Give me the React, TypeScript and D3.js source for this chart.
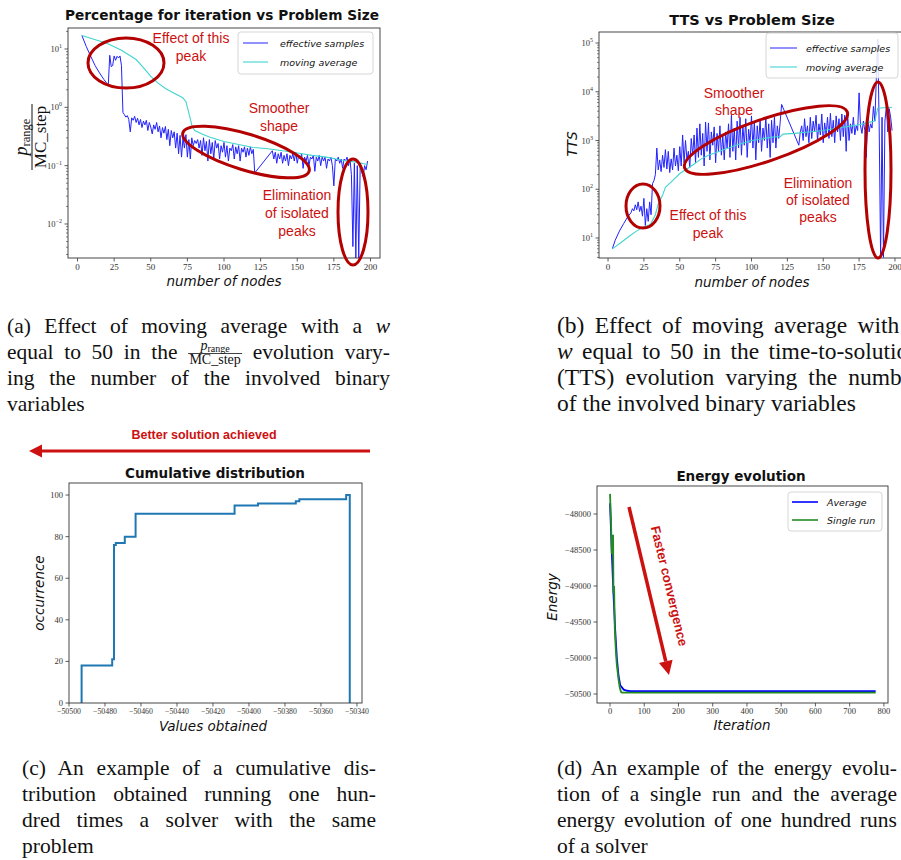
import { useEffect, useRef } from 'react';
import * as d3 from 'd3';

const W = 901;
const H = 860;

// (a) p_range / MC_step vs number of nodes
const nodesA = [
  3, 6, 9, 12, 15, 18, 21,
  22, 23, 24, 25, 26, 27, 28, 29, 30, 31,
  32, 33, 34, 35, 36, 37, 38, 39, 40, 41,
  42, 43, 44, 45, 46, 47, 48, 49, 50, 51,
  52, 53, 54, 55, 56, 57, 58, 59, 60, 61,
  62, 63, 64, 65, 66, 67, 68, 69, 70, 71,
  72, 73, 74, 75, 76, 77, 78, 79, 80, 81,
  82, 83, 84, 85, 86, 87, 88, 89, 90, 91,
  92, 93, 94, 95, 96, 97, 98, 99, 100, 101,
  102, 103, 104, 105, 106, 107, 108, 109, 110, 111,
  112, 113, 114, 115, 116, 117, 118, 119, 120, 121,
  133, 134, 135, 136, 137, 138, 139, 140, 141, 142,
  143, 144, 145, 146, 147, 148, 149, 150, 151, 152,
  153, 154, 155, 156, 157, 158, 159, 160, 161, 162,
  163, 164, 165, 166, 167, 168, 169, 170, 171, 172,
  173, 174, 175, 176, 177, 178, 179, 180, 181, 182,
  183, 184, 185, 186, 187, 188, 189, 190, 191, 192,
  193, 194, 195, 196, 197, 198,
];
const effectiveA = [
  17, 11, 7.5, 5.2, 3.9, 3.0, 2.4,
  7.8, 5.0, 5.2, 7.6, 6.4, 7.5, 7.0, 7.6, 5.2, 0.82,
  0.75, 0.68, 0.72, 0.62, 0.38, 0.66, 0.6, 0.7, 0.55, 0.65,
  0.5, 0.62, 0.45, 0.58, 0.5, 0.6, 0.4, 0.55, 0.46, 0.35,
  0.5, 0.42, 0.55, 0.38, 0.48, 0.3, 0.45, 0.36, 0.47, 0.28,
  0.42, 0.22, 0.4, 0.3, 0.38, 0.2, 0.36, 0.16, 0.33, 0.14,
  0.3, 0.2, 0.34, 0.14, 0.28, 0.13, 0.3, 0.22, 0.27, 0.24,
  0.28, 0.2, 0.27, 0.15, 0.3, 0.18, 0.26, 0.12, 0.28, 0.16,
  0.25, 0.13, 0.27, 0.2, 0.24, 0.13, 0.22, 0.17, 0.25, 0.14,
  0.22, 0.12, 0.2, 0.18, 0.23, 0.13, 0.21, 0.16, 0.22, 0.12,
  0.2, 0.17, 0.21, 0.14, 0.2, 0.15, 0.21, 0.16, 0.19, 0.075,
  0.18, 0.13, 0.17, 0.11, 0.16, 0.13, 0.17, 0.11, 0.15, 0.12,
  0.16, 0.1, 0.15, 0.13, 0.16, 0.12, 0.17, 0.11, 0.15, 0.13,
  0.16, 0.09, 0.14, 0.12, 0.15, 0.1, 0.14, 0.13, 0.15, 0.08,
  0.14, 0.12, 0.15, 0.1, 0.14, 0.12, 0.14, 0.09, 0.13, 0.12,
  0.14, 0.1, 0.045, 0.13, 0.12, 0.14, 0.11, 0.13, 0.09, 0.13,
  0.12, 0.14, 0.1, 0.13, 0.07, 0.0041, 0.11, 0.0026, 0.1, 0.0026,
  0.11, 0.08, 0.065, 0.1, 0.085, 0.12,
];
const avgNodesA = [3, 10, 20, 30, 40, 45, 50, 55, 60, 65, 70, 72, 74, 76, 78, 80, 85, 90, 100, 110, 120, 130, 140, 150, 160, 170, 180, 190, 198];
const movingAvgA = [17, 15, 12.5, 9.5, 6.6, 4.8, 3.4, 2.6, 2.1, 1.8, 1.55, 1.45, 1.25, 0.8, 0.5, 0.4, 0.35, 0.31, 0.26, 0.23, 0.205, 0.195, 0.18, 0.165, 0.15, 0.14, 0.125, 0.115, 0.105];

// (b) TTS vs number of nodes
const nodesB = [
  3, 5, 8, 11, 14, 16,
  17, 18, 19, 20, 21, 22, 23, 24, 25, 26,
  27, 28, 29, 30, 31, 32, 33, 34, 35, 36,
  37, 38, 39, 40, 41, 42, 43, 44, 45, 46,
  47, 48, 49, 50, 51, 52, 53, 54, 55, 56,
  57, 58, 59, 60, 61, 62, 63, 64, 65, 66,
  67, 68, 69, 70, 71, 72, 73, 74, 75, 76,
  77, 78, 79, 80, 81, 82, 83, 84, 85, 86,
  87, 88, 89, 90, 91, 92, 93, 94, 95, 96,
  97, 98, 99, 100, 101, 102, 103, 104, 105, 106,
  107, 108, 109, 110, 111, 112, 113, 114, 115, 116,
  117, 118, 119, 120, 121,
  133, 134, 135, 136, 137, 138, 139, 140, 141, 142,
  143, 144, 145, 146, 147, 148, 149, 150, 151, 152,
  153, 154, 155, 156, 157, 158, 159, 160, 161, 162,
  163, 164, 165, 166, 167, 168, 169, 170, 171, 172,
  173, 174, 175, 176, 177, 178, 179, 180, 181, 182,
  183, 184, 185, 186, 187, 188, 189, 190, 191, 192,
  193, 194, 195, 196, 197, 198,
];
const ttsB = [
  6, 9, 14, 20, 28, 33,
  40, 36, 48, 38, 55, 35, 45, 28, 65, 18,
  40, 22, 55, 30, 130, 150, 200, 700, 250, 400,
  230, 500, 280, 650, 260, 600, 220, 420, 250, 700,
  300, 500, 240, 750, 300, 1300, 350, 1000, 400, 600,
  280, 1100, 500, 1300, 350, 1800, 450, 2200, 500, 1400,
  300, 2400, 600, 2300, 400, 1500, 800, 1900, 350, 1400,
  600, 2000, 500, 1300, 400, 1500, 700, 2200, 450, 3300,
  600, 1800, 400, 2500, 700, 3000, 500, 2000, 800, 2800,
  450, 1700, 900, 3200, 700, 2500, 400, 2000, 900, 2700,
  600, 1800, 1000, 3000, 700, 2200, 450, 2600, 900, 3000,
  700, 2000, 1100, 2400, 5500,
  800, 1500, 2000, 1000, 2800, 1200, 2000, 900, 3000, 1100,
  2500, 1500, 3300, 1000, 2200, 1300, 3500, 900, 2300, 1300,
  3000, 1100, 3600, 1200, 2600, 900, 3200, 1500, 2800, 1000,
  3500, 1200, 3300, 600, 3700, 1000, 2200, 1400, 3000, 1300,
  2000, 1600, 9500, 2000, 1400, 2500, 1600, 450, 3000, 1500,
  2200, 1800, 5000, 2500, 18000, 120000, 2000, 4, 3000, 4,
  2500, 5000, 1500, 4500, 3000, 1600,
];
const avgNodesB = [3, 10, 15, 20, 25, 28, 30, 33, 35, 38, 40, 45, 50, 55, 60, 65, 70, 75, 80, 85, 90, 95, 100, 105, 110, 115, 120, 122, 130, 140, 150, 160, 170, 175, 180, 186, 188, 192, 198];
const movingAvgB = [6, 8.5, 11, 14, 17, 18, 20, 30, 50, 75, 110, 150, 210, 260, 330, 420, 500, 560, 640, 720, 820, 900, 1000, 1050, 1120, 1180, 1200, 1350, 1400, 1500, 1600, 1800, 2000, 2100, 2300, 2500, 4600, 4700, 4800];

// (c) cumulative distribution (bin edge, cumulative count)
const cumEdges = [-50493, -50476, -50475, -50474, -50469, -50463, -50408, -50395, -50374, -50372, -50346];
const cumCounts = [18, 21, 76, 77, 80, 91, 95, 96, 97, 98, 100];
const cumLastEdge = -50344;
const ticksC = [-50500, -50480, -50460, -50440, -50420, -50400, -50380, -50360, -50340];

// (d) energy evolution
const iterAvg = [0, 5, 10, 15, 20, 25, 30, 40, 50, 60, 776];
const energyAvg = [-47850, -48500, -49100, -49600, -50000, -50250, -50380, -50440, -50455, -50460, -50460];
const iterRun = [0, 3, 5, 6, 9, 10, 12, 14, 17, 20, 25, 28, 32, 35, 776];
const energyRun = [-47720, -48100, -48560, -48300, -48300, -49100, -49000, -49600, -49900, -50100, -50300, -50400, -50470, -50480, -50480];
const ticksDx = [0, 100, 200, 300, 400, 500, 600, 700, 800];
const ticksDy = [-48000, -48500, -49000, -49500, -50000, -50500];

const ticksNodes = [0, 25, 50, 75, 100, 125, 150, 175, 200];
const ticksC_y = [0, 20, 40, 60, 80, 100];

const SERIF = "'Liberation Serif', 'DejaVu Serif', serif";
const SANS = "'DejaVu Sans', sans-serif";
const ARIAL = "'Liberation Sans', Arial, sans-serif";
const RED = '#cc1111';
const RED_DARK = '#b30000';
const CAP = 21.5;

type Box = { left: number; right: number; top: number; bottom: number };
type Seg = { t: string; it?: boolean };

const App = () => {
  const svgRef = useRef<SVGSVGElement>(null);

  useEffect(() => {
    const svg = d3.select(svgRef.current);
    svg.selectAll('*').remove();
    const root = svg.append('g');

    // ---------- helpers
    const frame = (b: Box) => {
      root.append('rect')
        .attr('x', b.left).attr('y', b.top)
        .attr('width', b.right - b.left).attr('height', b.bottom - b.top)
        .attr('fill', 'none').attr('stroke', '#333').attr('stroke-width', 0.9);
    };

    const clip = (id: string, b: Box) => {
      root.append('clipPath').attr('id', id).append('rect')
        .attr('x', b.left).attr('y', b.top)
        .attr('width', b.right - b.left).attr('height', b.bottom - b.top);
    };

    const xTicks = (b: Box, x: (v: number) => number, vals: number[], fmt: (v: number) => string, dy: number, fs = 9) => {
      vals.forEach(v => {
        const px = x(v);
        root.append('line').attr('x1', px).attr('x2', px).attr('y1', b.bottom).attr('y2', b.bottom + 3.5)
          .attr('stroke', '#333').attr('stroke-width', 0.8);
        root.append('text').attr('x', px).attr('y', b.bottom + dy)
          .attr('text-anchor', 'middle').attr('font-family', SERIF).attr('font-size', fs).attr('fill', '#333')
          .text(fmt(v));
      });
    };

    const yTicks = (b: Box, y: (v: number) => number, vals: number[], fmt: (v: number) => string, fs = 9) => {
      vals.forEach(v => {
        const py = y(v);
        root.append('line').attr('x1', b.left - 3.5).attr('x2', b.left).attr('y1', py).attr('y2', py)
          .attr('stroke', '#333').attr('stroke-width', 0.8);
        root.append('text').attr('x', b.left - 6).attr('y', py + 3)
          .attr('text-anchor', 'end').attr('font-family', SERIF).attr('font-size', fs).attr('fill', '#333')
          .text(fmt(v));
      });
    };

    const logTicks = (b: Box, y: d3.ScaleLogarithmic<number, number>) => {
      const [lo, hi] = y.domain();
      const kLo = Math.floor(Math.log10(lo));
      const kHi = Math.ceil(Math.log10(hi));
      for (let k = kLo; k <= kHi; k++) {
        for (let m = 1; m <= 9; m++) {
          const v = m * Math.pow(10, k);
          if (v < lo || v > hi) continue;
          const py = y(v);
          root.append('line').attr('x1', b.left - (m === 1 ? 3.5 : 2)).attr('x2', b.left)
            .attr('y1', py).attr('y2', py).attr('stroke', '#333').attr('stroke-width', m === 1 ? 0.8 : 0.6);
          if (m === 1) {
            const t = root.append('text').attr('x', b.left - 6).attr('y', py + 3)
              .attr('text-anchor', 'end').attr('font-family', SERIF).attr('font-size', 8.5).attr('fill', '#333');
            t.append('tspan').text('10');
            t.append('tspan').attr('font-size', 6).attr('dy', -4).text(k < 0 ? `\u2212${-k}` : `${k}`);
          }
        }
      }
    };

    const title = (txt: string, cx: number, y: number, fs = 13.5) => {
      root.append('text').attr('x', cx).attr('y', y).attr('text-anchor', 'middle')
        .attr('font-family', SANS).attr('font-weight', 'bold').attr('font-size', fs).attr('fill', '#111')
        .text(txt);
    };

    const axisLabel = (txt: string, x: number, y: number, rotate = false) => {
      root.append('text')
        .attr('transform', `translate(${x},${y})${rotate ? ' rotate(-90)' : ''}`)
        .attr('text-anchor', 'middle').attr('font-family', SANS).attr('font-style', 'italic')
        .attr('font-size', 13.5).attr('fill', '#111').text(txt);
    };

    const legend = (x0: number, y0: number, w: number, h: number, items: { label: string; color: string; lw: number }[], rows: number[], lx: [number, number], tx: number) => {
      root.append('rect').attr('x', x0).attr('y', y0).attr('width', w).attr('height', h).attr('rx', 3)
        .attr('fill', '#fff').attr('fill-opacity', 0.85).attr('stroke', '#ccc').attr('stroke-width', 0.8);
      items.forEach((it, i) => {
        root.append('line').attr('x1', lx[0]).attr('x2', lx[1]).attr('y1', rows[i]).attr('y2', rows[i])
          .attr('stroke', it.color).attr('stroke-width', it.lw);
        root.append('text').attr('x', tx).attr('y', rows[i] + 3.5).attr('font-family', SANS)
          .attr('font-style', 'italic').attr('font-size', 9.5).attr('fill', '#111').text(it.label);
      });
    };

    const redText = (lines: string[], cx: number, y0: number, step: number) => {
      lines.forEach((l, i) => {
        root.append('text').attr('x', cx).attr('y', y0 + i * step).attr('text-anchor', 'middle')
          .attr('font-family', ARIAL).attr('font-size', 14).attr('fill', RED).text(l);
      });
    };

    const ellipse = (cx: number, cy: number, rx: number, ry: number, rot: number) => {
      root.append('ellipse').attr('cx', 0).attr('cy', 0).attr('rx', rx).attr('ry', ry)
        .attr('transform', `translate(${cx},${cy}) rotate(${rot})`)
        .attr('fill', 'none').attr('stroke', RED_DARK).attr('stroke-width', 3);
    };

    const captionText = (x: number, y: number, fs = CAP) =>
      root.append('text').attr('x', x).attr('y', y).attr('font-family', SERIF)
        .attr('font-size', fs).attr('fill', '#111');

    const captionLine = (segs: Seg[], x: number, y: number, width: number | null, fs = CAP) => {
      const t = captionText(x, y, fs);
      segs.forEach(s => t.append('tspan').attr('font-style', s.it ? 'italic' : null).text(s.t));
      if (width) {
        const nat = (t.node() as SVGTextElement).getComputedTextLength();
        const spaces = segs.map(s => s.t).join('').split(' ').length - 1;
        if (spaces > 0) t.attr('word-spacing', Math.max(0, (width - nat) / spaces));
      }
    };

    // ---------- (a)
    const bA: Box = { left: 68, right: 380, top: 28, bottom: 258 };
    const xA = d3.scaleLinear().domain([-6.5, 206.5]).range([bA.left, bA.right]);
    const yA = d3.scaleLog().domain([Math.pow(10, -2.583), Math.pow(10, 1.36)]).range([bA.bottom, bA.top]);
    clip('clipA', bA);
    const lineA = d3.line<number>().x((_, i) => xA(nodesA[i])).y(d => yA(d));
    const lineAvgA = d3.line<number>().x((_, i) => xA(avgNodesA[i])).y(d => yA(d));
    const gA = root.append('g').attr('clip-path', 'url(#clipA)');
    gA.append('path').attr('d', lineA(effectiveA)).attr('fill', 'none').attr('stroke', '#2222ff').attr('stroke-width', 1);
    gA.append('path').attr('d', lineAvgA(movingAvgA)).attr('fill', 'none').attr('stroke', '#40d4cf').attr('stroke-width', 1.1);
    frame(bA);
    xTicks(bA, xA, ticksNodes, v => `${v}`, 12);
    logTicks(bA, yA);
    title('Percentage for iteration vs Problem Size', 222, 20, 13.7);
    axisLabel('number of nodes', 224, 286);
    // y label: p_range / MC_step
    const fr = root.append('g').attr('transform', 'translate(32,137) rotate(-90)');
    const num = fr.append('text').attr('x', 0).attr('y', -5).attr('text-anchor', 'middle')
      .attr('font-family', SERIF).attr('font-size', 18).attr('fill', '#111');
    num.append('tspan').attr('font-style', 'italic').text('p');
    num.append('tspan').attr('font-size', 12.5).attr('dy', 3).text('range');
    fr.append('line').attr('x1', -33).attr('x2', 33).attr('y1', 0).attr('y2', 0).attr('stroke', '#111').attr('stroke-width', 1);
    fr.append('text').attr('x', 0).attr('y', 14).attr('text-anchor', 'middle')
      .attr('font-family', SERIF).attr('font-size', 17).attr('fill', '#111').text('MC_step');
    legend(238, 32, 135, 42, [
      { label: 'effective samples', color: '#2222ff', lw: 1 },
      { label: 'moving average', color: '#40d4cf', lw: 1.1 },
    ], [43, 62], [243, 268], 280);
    ellipse(126, 63, 38, 25, 0);
    redText(['Effect of this', 'peak'], 191, 43, 18);
    ellipse(246, 152, 66, 18, 17);
    redText(['Smoother', 'shape'], 279, 113, 18);
    ellipse(353, 212, 15, 53, 0);
    redText(['Elimination', 'of isolated', 'peaks'], 297, 200, 18);

    // ---------- (b)
    const bB: Box = { left: 599, right: 906, top: 32, bottom: 258 };
    const xB = d3.scaleLinear().domain([-6.3, 207.7]).range([bB.left, bB.right]);
    const yB = d3.scaleLog().domain([Math.pow(10, 0.59), Math.pow(10, 5.226)]).range([bB.bottom, bB.top]);
    clip('clipB', bB);
    const lineB = d3.line<number>().x((_, i) => xB(nodesB[i])).y(d => yB(d));
    const lineAvgB = d3.line<number>().x((_, i) => xB(avgNodesB[i])).y(d => yB(d));
    const gB = root.append('g').attr('clip-path', 'url(#clipB)');
    gB.append('path').attr('d', lineB(ttsB)).attr('fill', 'none').attr('stroke', '#2222ff').attr('stroke-width', 1);
    gB.append('path').attr('d', lineAvgB(movingAvgB)).attr('fill', 'none').attr('stroke', '#40d4cf').attr('stroke-width', 1.1);
    frame(bB);
    xTicks(bB, xB, ticksNodes, v => `${v}`, 12);
    logTicks(bB, yB);
    title('TTS vs Problem Size', 752, 25, 14.5);
    axisLabel('number of nodes', 752, 287);
    axisLabel('TTS', 577, 144, true);
    legend(766, 33, 132, 45, [
      { label: 'effective samples', color: '#2222ff', lw: 1 },
      { label: 'moving average', color: '#40d4cf', lw: 1.1 },
    ], [48, 67], [770, 797], 806);
    ellipse(643, 206, 17, 22, 0);
    redText(['Effect of this', 'peak'], 708, 220, 18);
    ellipse(766, 140, 86, 21, -19);
    redText(['Smoother', 'shape'], 734, 98, 17);
    ellipse(878, 170, 13, 88, 0);
    redText(['Elimination', 'of isolated', 'peaks'], 818, 188, 17);

    // ---------- (c)
    const bC: Box = { left: 69, right: 362, top: 483, bottom: 703 };
    const xC = d3.scaleLinear().domain([-50500, -50337.2]).range([bC.left, bC.right]);
    const yC = d3.scaleLinear().domain([0, 105.8]).range([bC.bottom, bC.top]);
    const stepPts: [number, number][] = [[cumEdges[0], 0]];
    cumEdges.forEach((e, i) => stepPts.push([e, cumCounts[i]]));
    stepPts.push([cumLastEdge, cumCounts[cumCounts.length - 1]]);
    stepPts.push([cumLastEdge, 0]);
    const stepLine = d3.line<[number, number]>().x(d => xC(d[0])).y(d => yC(d[1])).curve(d3.curveStepAfter);
    root.append('path').attr('d', stepLine(stepPts)).attr('fill', 'none').attr('stroke', '#1f77b4').attr('stroke-width', 2);
    frame(bC);
    xTicks(bC, xC, ticksC, v => `\u2212${-v}`, 11, 7.8);
    yTicks(bC, yC, ticksC_y, v => `${v}`, 8.5);
    title('Cumulative distribution', 215, 478);
    axisLabel('Values obtained', 213, 731);
    axisLabel('occurrence', 44, 593, true);
    // better solution arrow
    root.append('line').attr('x1', 370).attr('x2', 38).attr('y1', 451).attr('y2', 451)
      .attr('stroke', RED).attr('stroke-width', 3);
    root.append('path').attr('d', 'M29,451 L42,444.5 L42,457.5 Z').attr('fill', RED);
    root.append('text').attr('x', 204).attr('y', 439).attr('text-anchor', 'middle')
      .attr('font-family', ARIAL).attr('font-weight', 'bold').attr('font-size', 12.5).attr('fill', RED)
      .text('Better solution achieved');

    // ---------- (d)
    const bD: Box = { left: 597, right: 888, top: 486, bottom: 703 };
    const xD = d3.scaleLinear().domain([-38, 812]).range([bD.left, bD.right]);
    const yD = d3.scaleLinear().domain([-50625, -47611]).range([bD.bottom, bD.top]);
    const lineAvgD = d3.line<number>().x((_, i) => xD(iterAvg[i])).y(d => yD(d));
    const lineRunD = d3.line<number>().x((_, i) => xD(iterRun[i])).y(d => yD(d));
    root.append('path').attr('d', lineAvgD(energyAvg)).attr('fill', 'none').attr('stroke', '#0000ff').attr('stroke-width', 1.8);
    root.append('path').attr('d', lineRunD(energyRun)).attr('fill', 'none').attr('stroke', '#228b22').attr('stroke-width', 1.8);
    frame(bD);
    xTicks(bD, xD, ticksDx, v => `${v}`, 11, 8.5);
    yTicks(bD, yD, ticksDy, v => `\u2212${-v}`, 8.5);
    title('Energy evolution', 741, 481);
    axisLabel('Iteration', 742, 730);
    axisLabel('Energy', 557, 597, true);
    legend(788, 492, 94, 39, [
      { label: 'Average', color: '#0000ff', lw: 1.6 },
      { label: 'Single run', color: '#228b22', lw: 1.6 },
    ], [502, 520], [792, 818], 827);
    // faster convergence arrow
    const ax0 = 629, ay0 = 507, ax1 = 669, ay1 = 675;
    const ang = Math.atan2(ay1 - ay0, ax1 - ax0);
    const hl = 14, hw = 7;
    const bx = ax1 - hl * Math.cos(ang), by = ay1 - hl * Math.sin(ang);
    root.append('line').attr('x1', ax0).attr('y1', ay0).attr('x2', bx).attr('y2', by)
      .attr('stroke', RED).attr('stroke-width', 3.5);
    root.append('path')
      .attr('d', `M${ax1},${ay1} L${bx + hw * Math.sin(ang)},${by - hw * Math.cos(ang)} L${bx - hw * Math.sin(ang)},${by + hw * Math.cos(ang)} Z`)
      .attr('fill', RED);
    root.append('text').attr('transform', `translate(665,587) rotate(${(ang * 180) / Math.PI})`)
      .attr('text-anchor', 'middle').attr('font-family', ARIAL).attr('font-weight', 'bold')
      .attr('font-size', 13).attr('fill', RED).text('Faster convergence');

    // ---------- captions
    captionLine([{ t: '(a) Effect of moving average with a ' }, { t: 'w', it: true }], 7, 333, 383);

    // line 2 of (a): text, inline fraction, text - justified together
    const leftT = captionText(7, 359).text('equal to 50 in the');
    const rightT = captionText(0, 359).text('evolution vary-');
    const fracW = 54;
    const spaceW = CAP * 0.25;
    const lNat = (leftT.node() as SVGTextElement).getComputedTextLength();
    const rNat = (rightT.node() as SVGTextElement).getComputedTextLength();
    const extra = (383 - (lNat + rNat + fracW + 2 * spaceW)) / 7;
    leftT.attr('word-spacing', extra);
    rightT.attr('word-spacing', extra);
    const fracX = 7 + lNat + 4 * extra + spaceW + extra;
    rightT.attr('x', fracX + fracW + spaceW + extra);
    const cf = root.append('g').attr('transform', `translate(${fracX + fracW / 2},0)`);
    const cn = cf.append('text').attr('x', 0).attr('y', 350).attr('text-anchor', 'middle')
      .attr('font-family', SERIF).attr('font-size', 14).attr('fill', '#111');
    cn.append('tspan').attr('font-style', 'italic').text('p');
    cn.append('tspan').attr('font-size', 10).attr('dy', 1.5).text('range');
    cf.append('line').attr('x1', -fracW / 2).attr('x2', fracW / 2).attr('y1', 353.5).attr('y2', 353.5).attr('stroke', '#111').attr('stroke-width', 0.8);
    cf.append('text').attr('x', 0).attr('y', 364).attr('text-anchor', 'middle')
      .attr('font-family', SERIF).attr('font-size', 14).attr('fill', '#111').text('MC_step');

    captionLine([{ t: 'ing the number of the involved binary' }], 7, 385, 383);
    captionLine([{ t: 'variables' }], 7, 411, null);

    const CAPB = 23.5;
    captionLine([{ t: '(b) Effect of moving average with a' }], 557, 333, 363, CAPB);
    captionLine([{ t: 'w', it: true }, { t: ' equal to 50 in the time-to-solution' }], 557, 359, 363, CAPB);
    captionLine([{ t: '(TTS) evolution varying the number' }], 557, 385, 363, CAPB);
    captionLine([{ t: 'of the involved binary variables' }], 557, 411, null, CAPB);

    captionLine([{ t: '(c) An example of a cumulative dis-' }], 22, 775, 354);
    captionLine([{ t: 'tribution obtained running one hun-' }], 22, 801, 354);
    captionLine([{ t: 'dred times a solver with the same' }], 22, 827, 354);
    captionLine([{ t: 'problem' }], 22, 853, null);

    captionLine([{ t: '(d) An example of the energy evolu-' }], 557, 775, 340);
    captionLine([{ t: 'tion of a single run and the average' }], 557, 801, 340);
    captionLine([{ t: 'energy evolution of one hundred runs' }], 557, 827, 340);
    captionLine([{ t: 'of a solver' }], 557, 853, null);
  }, []);

  return (
    <svg
      ref={svgRef}
      width={W}
      height={H}
      style={{ position: 'absolute', left: 0, top: 0, background: '#fff' }}
    />
  );
};

export default App;
